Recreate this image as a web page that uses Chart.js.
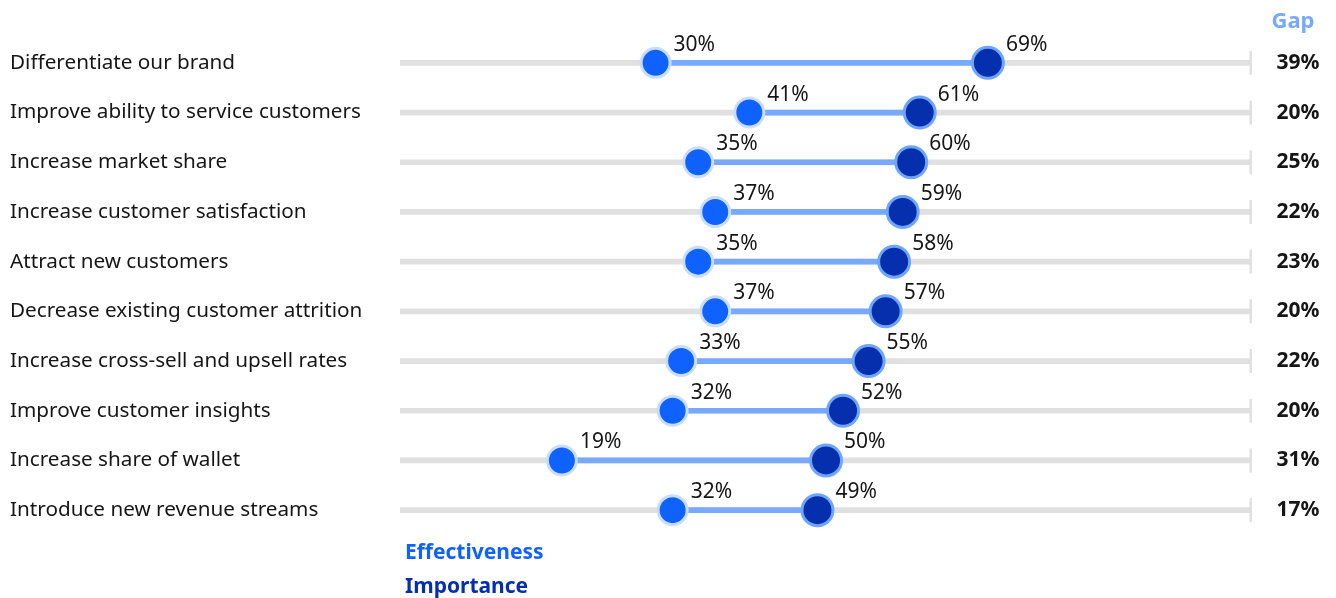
<!DOCTYPE html>
<html>
<head>
<meta charset="utf-8">
<script src="https://cdn.jsdelivr.net/npm/chart.js@4.4.1/dist/chart.umd.min.js"></script>
<style>
  html, body { margin: 0; padding: 0; background: #fff; }
  #wrap { width: 1336px; height: 598px; }
</style>
</head>
<body>
<div id="wrap"><canvas id="DumbbellChart"></canvas></div>
<script>
// data
var categories = [
  'Differentiate our brand',
  'Improve ability to service customers',
  'Increase market share',
  'Increase customer satisfaction',
  'Attract new customers',
  'Decrease existing customer attrition',
  'Increase cross-sell and upsell rates',
  'Improve customer insights',
  'Increase share of wallet',
  'Introduce new revenue streams'
];
var effectiveness = [30, 41, 35, 37, 35, 37, 33, 32, 19, 32];
var importance    = [69, 61, 60, 59, 58, 57, 55, 52, 50, 49];
var gaps          = [39, 20, 25, 22, 23, 20, 22, 20, 31, 17];
var xMin = 0;
var xMax = 100;

var FONT = '"Noto Sans", "Open Sans", sans-serif';
var BLUE = '#0f62fe';
var DARK = '#052fad';
var LIGHT = '#78a9ff';
var GRAY = '#e0e0e0';

// gray track behind every row, connector between the two dots
var tracks = categories.map(function () { return [xMin, xMax]; });
var connectors = effectiveness.map(function (e, i) { return [e, importance[i]]; });
var caps = categories.map(function () { return xMax; });

// text bits: point labels, gap column, legend
var textPlugin = {
  id: 'textBits',
  afterDatasetsDraw: function (chart) {
    var ctx = chart.ctx;
    var area = chart.chartArea;
    ctx.save();

    // value labels next to the dots
    ctx.font = '21px ' + FONT;
    ctx.fillStyle = '#161616';
    ctx.textAlign = 'left';
    ctx.textBaseline = 'middle';
    [3, 4].forEach(function (di) {
      var ds = chart.data.datasets[di];
      chart.getDatasetMeta(di).data.forEach(function (pt, i) {
        ctx.fillText(ds.data[i] + '%', pt.x + 18, pt.y - 18);
      });
    });

    // gap column
    var gx = area.right + 46;
    ctx.textAlign = 'center';
    ctx.font = 'bold 22px ' + FONT;
    ctx.fillStyle = LIGHT;
    ctx.fillText('Gap', gx - 5, 22);
    ctx.font = 'bold 21px ' + FONT;
    ctx.fillStyle = '#161616';
    chart.getDatasetMeta(3).data.forEach(function (pt, i) {
      ctx.fillText(gaps[i] + '%', gx, pt.y);
    });

    // legend
    ctx.textAlign = 'left';
    ctx.font = 'bold 21px ' + FONT;
    ctx.fillStyle = BLUE;
    ctx.fillText('Effectiveness', area.left + 5, area.bottom + 18);
    ctx.fillStyle = DARK;
    ctx.fillText('Importance', area.left + 5, area.bottom + 52);
    ctx.restore();
  }
};

var data = {
  labels: categories,
  datasets: [{
    type: 'bar',
    data: tracks,
    backgroundColor: GRAY,
    barThickness: 5,
    grouped: false,
    order: 5
  }, {
    type: 'line',
    data: caps,
    showLine: false,
    pointStyle: 'line',
    rotation: 90,
    pointRadius: 12,
    borderWidth: 5,
    borderColor: GRAY,
    order: 4
  }, {
    type: 'bar',
    data: connectors,
    backgroundColor: LIGHT,
    barThickness: 5,
    grouped: false,
    order: 3
  }, {
    //Effectiveness
    type: 'line',
    label: 'Effectiveness',
    data: effectiveness,
    showLine: false,
    pointRadius: 14.5,
    pointBackgroundColor: BLUE,
    pointBorderColor: '#c9ddff',
    pointBorderWidth: 3,
    order: 2
  }, {
    //Importance
    type: 'line',
    label: 'Importance',
    data: importance,
    showLine: false,
    pointRadius: 15.5,
    pointBackgroundColor: DARK,
    pointBorderColor: '#6ea6ff',
    pointBorderWidth: 3,
    order: 1
  }]
};

var options = {
  indexAxis: 'y',
  responsive: true,
  maintainAspectRatio: false,
  animation: false,
  events: [],
  layout: { padding: { left: 10, right: 84, top: 38, bottom: 63 } },
  plugins: {
    legend: { display: false },
    tooltip: { enabled: false }
  },
  scales: {
    x: {
      type: 'linear',
      min: xMin,
      max: xMax,
      display: false
    },
    y: {
      type: 'category',
      offset: true,
      grid: { display: false },
      border: { display: false },
      afterFit: function (scale) { scale.width = 390; },
      ticks: {
        crossAlign: 'far',
        color: '#161616',
        font: { family: FONT, size: 20.7 }
      }
    }
  }
};

var dumbbellChart = new Chart(document.getElementById('DumbbellChart'), {
  type: 'bar',
  data: data,
  options: options,
  plugins: [textPlugin]
});
</script>
</body>
</html>
